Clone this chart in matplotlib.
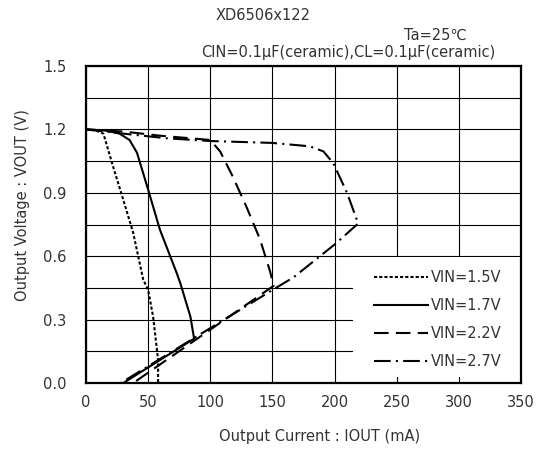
import matplotlib
matplotlib.use("Agg")
import matplotlib.pyplot as plt
from matplotlib.patches import Rectangle

plt.rcParams['font.family'] = ['DejaVu Sans']

# output current (mA) / output voltage (V)
i_15 = [0, 8, 14, 22, 30, 38, 46, 50, 54, 58, 58]
v_15 = [1.2, 1.195, 1.18, 1.02, 0.867, 0.71, 0.49, 0.44, 0.314, 0.11, 0.0]

i_17 = [0, 15, 27, 35, 41, 50, 59.5, 73, 76, 84, 87, 30]
v_17 = [1.2, 1.195, 1.18, 1.15, 1.09, 0.915, 0.725, 0.52, 0.47, 0.314, 0.21, 0.0]

i_22 = [0, 30, 60, 100, 108, 118, 129, 140, 148, 151, 38]
v_22 = [1.2, 1.19, 1.17, 1.15, 1.095, 0.978, 0.835, 0.68, 0.53, 0.46, 0.0]

i_27 = [0, 30, 65, 100, 150, 180, 191, 199, 210, 219, 201, 167, 150, 28]
v_27 = [1.2, 1.18, 1.158, 1.145, 1.136, 1.12, 1.096, 1.04, 0.90, 0.755, 0.66, 0.50, 0.44, 0.0]

labels = ['VIN=1.5V', 'VIN=1.7V', 'VIN=2.2V', 'VIN=2.7V']
x_ticks = [0, 50, 100, 150, 200, 250, 300, 350]
y_ticks = [0.0, 0.3, 0.6, 0.9, 1.2, 1.5]
y_grid = [0.15, 0.45, 0.75, 1.05, 1.35]

txt = '#333333'
fs = 10.5

fig = plt.figure(figsize=(5.45, 4.51), dpi=100)
ax = fig.add_axes([86 / 545, 1 - 383 / 451, 435 / 545, 317 / 451])

ax.plot(i_15, v_15, color='black', lw=1.5, ls=(0, (1.5, 1.0)), label=labels[0])
ax.plot(i_17, v_17, color='black', lw=1.5, ls='-', label=labels[1])
ax.plot(i_22, v_22, color='black', lw=1.5, ls=(0, (7, 3.5)), label=labels[2])
ax.plot(i_27, v_27, color='black', lw=1.5, ls=(0, (8, 2.5, 1, 2.5)), label=labels[3])

ax.set_xlim(0, 350)
ax.set_ylim(0, 1.5)
ax.set_xticks(x_ticks)
ax.set_yticks(y_ticks)
ax.set_yticklabels([f'{v:.1f}' for v in y_ticks])
ax.set_yticks(y_grid, minor=True)
ax.grid(True, which='both', color='black', lw=0.8)
ax.set_axisbelow(True)
ax.tick_params(which='both', length=0, labelsize=fs, labelcolor=txt)
ax.tick_params(axis='x', pad=8.6)
ax.tick_params(axis='y', pad=14)
for s in ax.spines.values():
    s.set_linewidth(1.6)
    s.set_zorder(6)

# white box behind the legend hides the grid
ax.add_patch(Rectangle((0.614, 0.02), 0.386, 0.378, transform=ax.transAxes,
                       facecolor='white', edgecolor='none', zorder=4))
leg = ax.legend(loc='upper left', bbox_to_anchor=(0.645, 0.38), frameon=False,
                borderpad=0, handlelength=3.7, handletextpad=0.2,
                labelspacing=0.9, fontsize=fs)
leg.set_zorder(5)
for t in leg.get_texts():
    t.set_color(txt)

ax.set_xlabel('Output Current : IOUT (mA)', fontsize=fs, color=txt)
ax.xaxis.set_label_coords(0.538, -0.17)
ax.xaxis.label.set_va('center')
ax.set_ylabel('Output Voltage : VOUT (V)', fontsize=fs, color=txt)
ax.yaxis.set_label_coords(-0.147, 0.56)
ax.yaxis.label.set_va('center')

fig.text(263 / 545, 1 - 16 / 451, 'XD6506x122', ha='center', va='center',
         fontsize=fs, color=txt)
fig.text(467 / 545, 1 - 35 / 451, 'Ta=25℃', ha='right', va='center',
         fontsize=fs, color=txt)
fig.text(495 / 545, 1 - 52 / 451, 'CIN=0.1μF(ceramic),CL=0.1μF(ceramic)',
         ha='right', va='center', fontsize=fs, color=txt)

fig.savefig('out.png', dpi=100)
